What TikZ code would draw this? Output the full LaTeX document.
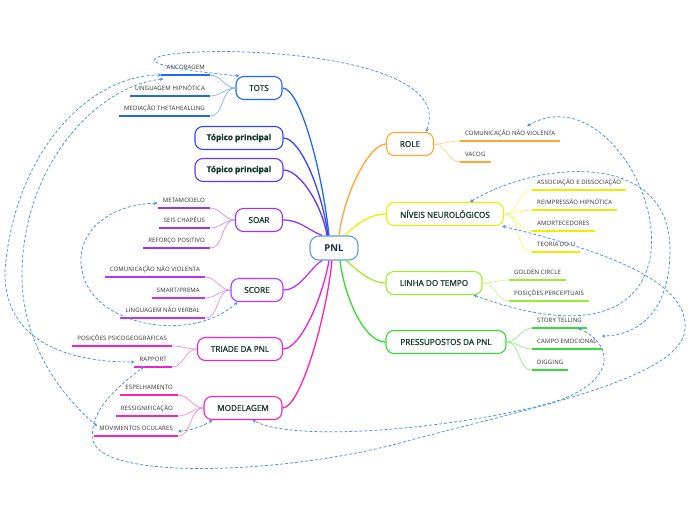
\documentclass[tikz,border=0pt]{standalone}
\usepackage{fontspec}
\setmainfont{Open Sans}
\newfontfamily\subfont[LetterSpace=2]{Open Sans}
\newfontfamily\topicfont[FakeBold=1.2]{Open Sans}
\usetikzlibrary{arrows.meta}
\definecolor{txt}{HTML}{173A31}
\definecolor{subtxt}{HTML}{2E2E2E}
\definecolor{pnltxt}{HTML}{1A2A4A}
\definecolor{pnlc}{HTML}{5AA0E0}
\definecolor{relc}{HTML}{4A90E2}
\definecolor{cTots}{HTML}{2266FF}
\definecolor{cTpa}{HTML}{3344FF}
\definecolor{cTpb}{HTML}{6633FF}
\definecolor{cSoar}{HTML}{9933FF}
\definecolor{cScore}{HTML}{BB33FF}
\definecolor{cTri}{HTML}{EE22CC}
\definecolor{cMod}{HTML}{FF22AA}
\definecolor{cRole}{HTML}{FFA530}
\definecolor{cNiv}{HTML}{EEEE00}
\definecolor{cLin}{HTML}{99EE33}
\definecolor{cPre}{HTML}{33DD33}
\begin{document}
\begin{tikzpicture}[x=1pt,y=-1pt,
  topic/.style={draw, rounded corners=8pt, line width=1.1pt, fill=white,
    font=\topicfont\fontsize{8.2}{9}\selectfont, text=txt, inner sep=0pt,
    minimum height=23pt, align=center},
  pnlbox/.style={draw=pnlc, rounded corners=9pt, line width=1.1pt, fill=white,
    font=\fontsize{9.5}{10}\selectfont\bfseries, text=pnltxt, inner sep=0pt,
    minimum width=48pt, minimum height=24pt},
  sub/.style={font=\subfont\fontsize{6}{6}\selectfont, text=subtxt, inner xsep=5pt,
    inner ysep=0pt, text height=4.5pt, text depth=5pt},
  branch/.style={line width=1.3pt},
  twig/.style={line width=0.7pt},
  uline/.style={line width=1.7pt},
  relline/.style={draw=relc, line width=0.75pt, dash pattern=on 3pt off 2pt,
    {Stealth[length=3.5pt,width=3.5pt]}-{Stealth[length=3.5pt,width=3.5pt]}}
]
\useasboundingbox (0,0) rectangle (696,520);

% central and main topics
\node[pnlbox] (pnl) at (334,248) {PNL};
\node[topic, draw=cTots, minimum width=46pt] (tots) at (259,88) {TOTS};
\node[topic, draw=cTpa, minimum width=88pt] (tpa) at (239,138) {\bfseries Tópico principal};
\node[topic, draw=cTpb, minimum width=88pt] (tpb) at (239,170) {\bfseries Tópico principal};
\node[topic, draw=cSoar, minimum width=47pt] (soar) at (259,220) {SOAR};
\node[topic, draw=cScore, minimum width=52pt] (score) at (257,290) {SCORE};
\node[topic, draw=cTri, minimum width=85pt] (triade) at (240,349) {TRIADE DA PNL};
\node[topic, draw=cMod, minimum width=78pt] (modelagem) at (243,408) {MODELAGEM};
\node[topic, draw=cRole, minimum width=47pt] (role) at (410,144) {ROLE};
\node[topic, draw=cNiv, minimum width=117pt] (niveis) at (445,214) {NÍVEIS NEUROLÓGICOS};
\node[topic, draw=cLin, minimum width=96pt] (linha) at (434,283) {LINHA DO TEMPO};
\node[topic, draw=cPre, minimum width=120pt] (pressup) at (446,342) {PRESSUPOSTOS DA PNL};

% branches
\draw[branch, cTots] (tots.east) .. controls (300,88) and (322,170) .. ([xshift=-5pt]pnl.north);
\draw[branch, cTpa] (tpa.east) .. controls (300,138) and (322,190) .. ([xshift=-6pt]pnl.north);
\draw[branch, cTpb] (tpb.east) .. controls (300,170) and (322,205) .. ([xshift=-7pt]pnl.north);
\draw[branch, cSoar] (soar.east) .. controls (300,220) and (308,230) .. ([xshift=-12pt]pnl.north);
\draw[branch, cScore] (score.east) .. controls (300,290) and (310,268) .. ([xshift=-12pt]pnl.south);
\draw[branch, cTri] (triade.east) .. controls (300,349) and (322,300) .. ([xshift=-5pt]pnl.south);
\draw[branch, cMod] (modelagem.east) .. controls (300,408) and (326,320) .. ([xshift=-2pt]pnl.south);
\draw[branch, cRole] (role.west) .. controls (370,144) and (345,190) .. ([xshift=5pt]pnl.north);
\draw[branch, cNiv] (niveis.west) .. controls (370,214) and (355,225) .. ([xshift=11pt]pnl.north);
\draw[branch, cLin] (linha.west) .. controls (370,283) and (355,268) .. ([xshift=12pt]pnl.south);
\draw[branch, cPre] (pressup.west) .. controls (365,342) and (345,300) .. ([xshift=6pt]pnl.south);

% left subtopics
\node[sub, anchor=south east] (ta) at (210,75) {ANCORAGEM};
\node[sub, anchor=south east] (tb) at (210,96) {LINGUAGEM HIPNÓTICA};
\node[sub, anchor=south east] (tc) at (210,116) {MEDIAÇÃO THETAHEALLING};
\node[sub, anchor=south east] (ls1) at (210,208) {METAMODELO};
\node[sub, anchor=south east] (ls2) at (210,228) {SEIS CHAPÉUS};
\node[sub, anchor=south east] (ls3) at (210,248) {REFORÇO POSITIVO};
\node[sub, anchor=south east] (lc1) at (205,277) {COMUNICAÇÃO NÃO VIOLENTA};
\node[sub, anchor=south east] (lc2) at (205,298) {SMART/PREMA};
\node[sub, anchor=south east] (lc3) at (205,318) {LINGUAGEM NÃO VERBAL};
\node[sub, anchor=south east] (lt1) at (172,346) {POSIÇÕES PSICOGEOGRÁFICAS};
\node[sub, anchor=south east] (lt2) at (172,367) {RAPPORT};
\node[sub, anchor=south east] (lm1) at (178,395) {ESPELHAMENTO};
\node[sub, anchor=south east] (lm2) at (178,416) {RESSIGNIFICAÇÃO};
\node[sub, anchor=south east] (lm3) at (178,436) {MOVIMENTOS OCULARES};
% right subtopics
\node[sub, anchor=south west] (rcnv) at (460,141) {COMUNICAÇÃO NÃO VIOLENTA};
\node[sub, anchor=south west] (rvac) at (460,162) {VACOG};
\node[sub, anchor=south west] (n1) at (532,190) {ASSOCIAÇÃO E DISSOCIAÇÃO};
\node[sub, anchor=south west] (n2) at (532,210) {REIMPRESSÃO HIPNÓTICA};
\node[sub, anchor=south west] (n3) at (532,231) {AMORTECEDORES};
\node[sub, anchor=south west] (n4) at (532,252) {TEORIA DO U};
\node[sub, anchor=south west] (lg) at (509,280) {GOLDEN CIRCLE};
\node[sub, anchor=south west] (lp) at (509,301) {POSIÇÕES PERCEPTUAIS};
\node[sub, anchor=south west] (pp1) at (532,328) {STORY TELLING};
\node[sub, anchor=south west] (pp2) at (532,349) {CAMPO EMOCIONAL};
\node[sub, anchor=south west] (pp3) at (532,370) {DIGGING};

% twigs and underlines, left
\foreach \p/\n/\c in {tots/ta/cTots, tots/tb/cTots, tots/tc/cTots,
  soar/ls1/cSoar, soar/ls2/cSoar, soar/ls3/cSoar,
  score/lc1/cScore, score/lc2/cScore, score/lc3/cScore,
  triade/lt1/cTri, triade/lt2/cTri,
  modelagem/lm1/cMod, modelagem/lm2/cMod, modelagem/lm3/cMod}{
  \draw[twig, \c!55] (\p.west) to[out=180,in=0] (\n.south east);
  \draw[uline, \c] (\n.south west) -- (\n.south east);
}
% twigs and underlines, right
\foreach \p/\n/\c in {role/rcnv/cRole, role/rvac/cRole,
  niveis/n1/cNiv, niveis/n2/cNiv, niveis/n3/cNiv, niveis/n4/cNiv,
  linha/lg/cLin, linha/lp/cLin,
  pressup/pp1/cPre, pressup/pp2/cPre, pressup/pp3/cPre}{
  \draw[twig, \c!55] (\p.east) to[out=0,in=180] (\n.south west);
  \draw[uline, \c] (\n.south west) -- (\n.south east);
}

% relationships
\draw[relline] ([xshift=4pt]tots.north west) .. controls (-40,50) and (470,20) .. ([xshift=-8pt]role.north east);
\draw[relline] ([xshift=67pt,yshift=5pt]rcnv.north west) .. controls (640,60) and (760,400) .. ([xshift=-9pt]linha.south east);
\draw[relline] ([xshift=-34pt]niveis.north east) .. controls (540,160) and (670,150) .. (670,250)
  .. controls (670,310) and (640,335) .. ([yshift=3pt]pp2.north east);
\draw[relline] ([xshift=-2pt]niveis.south east) .. controls (600,250) and (690,280) .. (685,330)
  .. controls (680,380) and (520,410) .. (400,443)
  .. controls (280,475) and (100,480) .. (93,440)
  .. controls (88,410) and (120,385) .. ([xshift=9pt]lt2.south west);
\draw[relline] ([xshift=-9pt]pp1.south east) .. controls (615,345) and (615,380) .. (560,400)
  .. controls (480,425) and (300,445) .. ([xshift=49pt]modelagem.south west);
\draw[relline] (ta.south west) .. controls (90,75) and (15,150) .. (5,270)
  .. controls (3,330) and (50,362) .. (lt2.west);
\draw[relline] ([xshift=2pt,yshift=-4pt]ta.south west) .. controls (100,85) and (25,160) .. (22,270)
  .. controls (20,340) and (60,395) .. ([xshift=3pt]lm3.north west);
\draw[relline] (ls1.west) .. controls (100,205) and (75,240) .. (82,270)
  .. controls (90,325) and (190,345) .. ([xshift=7pt]score.south west);
\draw[relline] (lm3.east) .. controls (190,431) and (203,426) .. ([xshift=9pt]modelagem.south west);
\end{tikzpicture}
\end{document}
